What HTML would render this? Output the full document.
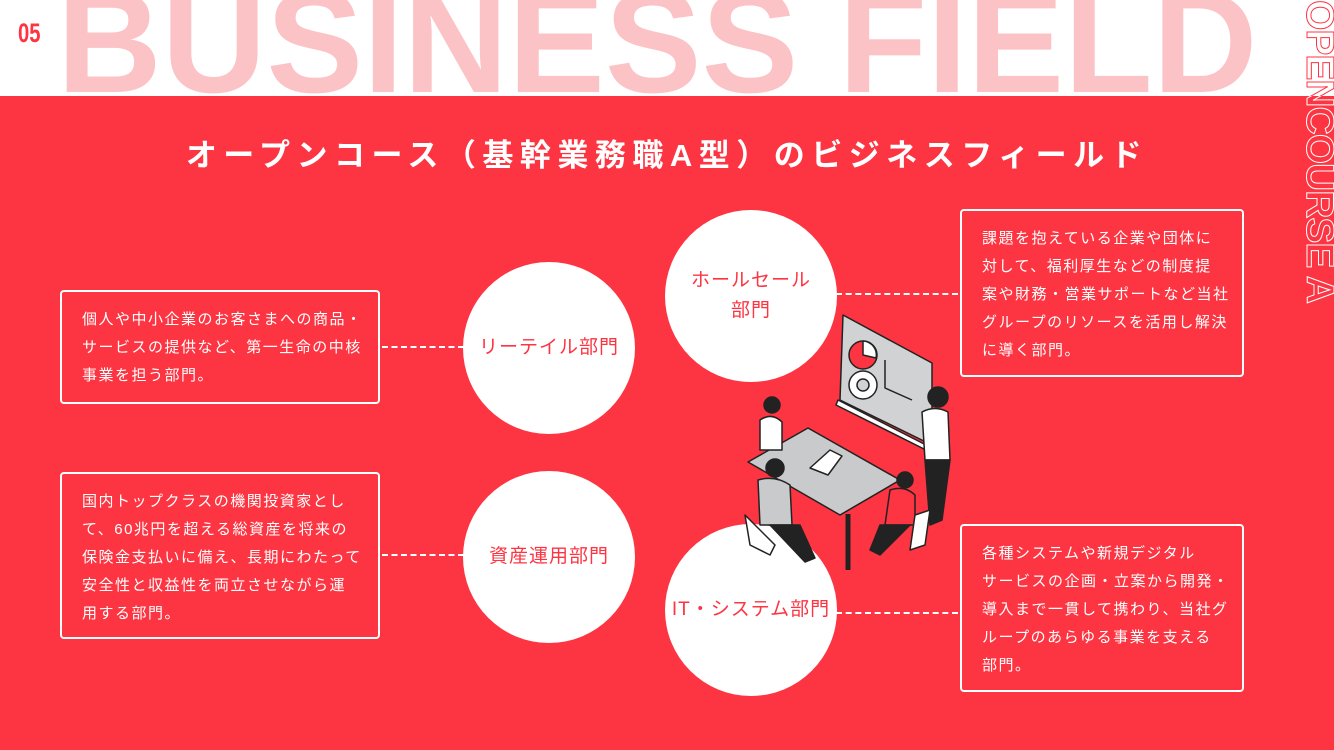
<!DOCTYPE html>
<html><head><meta charset="utf-8">
<style>
*{margin:0;padding:0;box-sizing:border-box}
body{width:1334px;height:750px;overflow:hidden;background:#fd3441;font-family:"Liberation Sans","Noto Sans CJK JP",sans-serif;position:relative}
.top{position:absolute;left:0;top:0;width:1334px;height:96px;background:#fff;overflow:hidden}
.big{position:absolute;left:57px;top:-30px;font-size:145px;font-weight:bold;color:#fcc3c6;letter-spacing:0px;white-space:nowrap;line-height:1}
.num{position:absolute;left:18px;top:18px;font-size:27px;font-weight:bold;color:#fd3441;transform:scaleX(0.75);transform-origin:left}
.vwrap{position:absolute;left:1300px;top:0;width:34px;height:750px;overflow:hidden}
.vwrap.w{top:0;height:96px}
.vert{position:absolute;left:34px;top:0;transform-origin:left top;transform:rotate(90deg);font-size:39px;font-weight:bold;color:transparent;-webkit-text-stroke:1px #fff;white-space:nowrap;letter-spacing:-1px;line-height:30px}
.vwrap.w .vert{-webkit-text-stroke:1px #fd3441}
.title{position:absolute;left:0;width:1334px;top:130px;text-align:center;color:#fff;font-size:31px;font-weight:bold;letter-spacing:6.5px}
.box{position:absolute;border:2px solid #fff;border-radius:4px;color:#fff;font-size:15px;line-height:28px;letter-spacing:1.5px;padding:14px 0 0 20px}
.circle{position:absolute;width:172px;height:172px;border-radius:50%;background:#fff;color:#fd3441;font-size:19px;display:flex;align-items:center;justify-content:center;text-align:center;line-height:30px;letter-spacing:1px}
.dash{position:absolute;border-top:2px dashed #fff;height:0}
</style></head><body>
<div class="top"><div class="big">BUSINESS FIELD</div><div class="num">05</div></div>
<div class="vwrap"><div class="vert">OPENCOURSE A</div></div>
<div class="vwrap w"><div class="vert">OPENCOURSE A</div></div>
<div class="title">オープンコース（基幹業務職A型）のビジネスフィールド</div>

<div class="box" style="left:60px;top:290px;width:320px;height:114px">個人や中小企業のお客さまへの商品・<br>サービスの提供など、第一生命の中核<br>事業を担う部門。</div>
<div class="box" style="left:60px;top:472px;width:320px;height:167px">国内トップクラスの機関投資家とし<br>て、60兆円を超える総資産を将来の<br>保険金支払いに備え、長期にわたって<br>安全性と収益性を両立させながら運<br>用する部門。</div>
<div class="box" style="left:960px;top:209px;width:284px;height:168px">課題を抱えている企業や団体に<br>対して、福利厚生などの制度提<br>案や財務・営業サポートなど当社<br>グループのリソースを活用し解決<br>に導く部門。</div>
<div class="box" style="left:960px;top:524px;width:284px;height:168px">各種システムや新規デジタル<br>サービスの企画・立案から開発・<br>導入まで一貫して携わり、当社グ<br>ループのあらゆる事業を支える<br>部門。</div>

<div class="dash" style="left:382px;top:346px;width:82px"></div>
<div class="dash" style="left:382px;top:554px;width:82px"></div>
<div class="dash" style="left:836px;top:293px;width:122px"></div>
<div class="dash" style="left:836px;top:612px;width:122px"></div>

<div class="circle" style="left:463px;top:262px">リーテイル部門</div>
<div class="circle" style="left:463px;top:471px">資産運用部門</div>
<div class="circle" style="left:665px;top:210px">ホールセール<br>部門</div>
<div class="circle" style="left:665px;top:524px">IT・システム部門</div>

<svg style="position:absolute;left:730px;top:300px" width="240" height="280" viewBox="0 0 240 280">
<g stroke="#222" stroke-width="1.5" stroke-linejoin="round">
<polygon points="113,15 202,63 202,145 110,100" fill="#d0d2d4"/>
<polygon points="108,100 200,147 200,152 106,105" fill="#fff"/>
<circle cx="133" cy="55" r="14" fill="#fd3441"/>
<path d="M133,55 L133,41 A14,14 0 0 1 146,58 Z" fill="#fff"/>
<circle cx="133" cy="85" r="14" fill="#fff"/><circle cx="133" cy="85" r="6" fill="#d0d2d4"/>
<polyline points="155,60 155,88 182,100" fill="none"/>
<polygon points="18,162 78,128 170,180 110,215" fill="#c8cacc"/>
<line x1="118" y1="214" x2="118" y2="270" stroke-width="5"/>
<polygon points="80,168 100,150 112,156 98,175" fill="#fff"/>
<circle cx="42" cy="105" r="8" fill="#222"/>
<path d="M30,120 Q42,112 52,122 L52,150 L30,150 Z" fill="#fff"/>
<circle cx="208" cy="97" r="10" fill="#222"/>
<path d="M192,112 Q205,105 218,112 L220,160 L195,160 Z" fill="#fff"/>
<path d="M195,160 L220,160 L212,220 L200,225 Z" fill="#222"/>
<circle cx="45" cy="168" r="9" fill="#222"/>
<path d="M28,180 Q45,175 60,185 L62,225 L30,225 Z" fill="#c8cacc"/>
<path d="M40,225 L70,225 L85,258 L75,262 Z" fill="#222"/>
<path d="M15,215 L45,245 L40,255 L20,245 Z" fill="#fff"/>
<circle cx="175" cy="180" r="8" fill="#222"/>
<path d="M160,190 Q175,185 185,195 L185,225 L155,225 Z" fill="#fd3441"/>
<path d="M150,225 L180,225 L150,255 L140,250 Z" fill="#222"/>
<path d="M185,215 L200,210 L195,245 L180,250 Z" fill="#fff"/>
</g>
</svg>
</body></html>
